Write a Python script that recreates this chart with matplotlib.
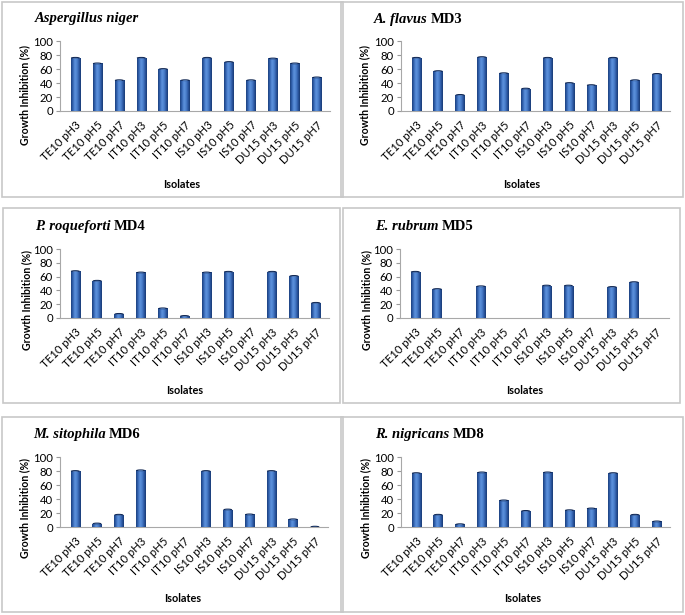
import numpy as np
import matplotlib
matplotlib.use("Agg")
import matplotlib.pyplot as plt
from matplotlib.patches import Rectangle, Ellipse
from matplotlib.colors import LinearSegmentedColormap
from matplotlib.transforms import ScaledTranslation

# ---------------- data ----------------
categories = ["TE10 pH3", "TE10 pH5", "TE10 pH7", "IT10 pH3", "IT10 pH5", "IT10 pH7",
              "IS10 pH3", "IS10 pH5", "IS10 pH7", "DU15 pH3", "DU15 pH5", "DU15 pH7"]

species_italic = ["Aspergillus niger", "A. flavus", "P. roqueforti",
                  "E. rubrum", "M. sitophila", "R. nigricans"]
species_code = ["", "MD3", "MD4", "MD5", "MD6", "MD8"]

a_niger = [76, 68, 44, 76, 60, 44, 76, 70, 44, 75, 68, 48]
a_flavus = [76, 57, 23, 77, 54, 32, 76, 40, 37, 76, 44, 53]
p_roqueforti = [68, 54, 6, 66, 14, 3, 66, 67, 0, 67, 61, 22]
e_rubrum = [67, 42, 0, 46, 0, 0, 47, 47, 0, 45, 52, 0]
m_sitophila = [80, 5, 17.5, 81, 0, 0, 80, 25, 18, 80, 11, 0.5]
r_nigricans = [77, 17.5, 4, 78, 38, 23, 78, 24, 26.5, 77, 17.5, 8]

series = [a_niger, a_flavus, p_roqueforti, e_rubrum, m_sitophila, r_nigricans]
yticks = [0, 20, 40, 60, 80, 100]

# ---------------- layout (pixels) ----------------
W, H = 685, 615
fig = plt.figure(figsize=(W / 100, H / 100), dpi=100)
fig.patch.set_facecolor("white")
renderer = fig.canvas.get_renderer()

boxes = [(2, 2, 343, 197), (341, 2, 683, 197),
         (3, 208, 340, 403), (343, 208, 680, 403),
         (2, 417, 343, 612), (341, 417, 683, 612)]
axes_px = [(60, 41, 330, 111), (401, 41, 670, 111),
           (60, 249, 329, 318), (400, 249, 669, 318),
           (60, 457, 328, 527), (401, 457, 670, 527)]
title_px = [(35, 22), (374, 23), (35, 230), (375, 230), (33, 438), (375, 438)]
ylab_px = [(25, 95), (365, 95), (27, 300), (367, 300), (25, 508), (366, 508)]
xlab_px = [(182, 185), (522, 185), (185, 390), (525, 390), (183, 598), (523, 598)]


def fx(x):
    return x / W


def fy(y):
    return 1 - y / H


cmap = LinearSegmentedColormap.from_list(
    "cyl", ["#1b3f7d", "#3566b4", "#5d92dc", "#4d82cf", "#2e5ba6", "#183a74"])
grad = np.linspace(0, 1, 64).reshape(1, -1)
shift = ScaledTranslation(4 / 100, 0, fig.dpi_scale_trans)

for i in range(6):
    bx0, by0, bx1, by1 = boxes[i]
    fig.patches.append(Rectangle((fx(bx0), fy(by1)), fx(bx1 - bx0), (by1 - by0) / H,
                                 transform=fig.transFigure, fill=False,
                                 edgecolor="#c8c8c8", linewidth=1.2))
    x0, y0, x1, y1 = axes_px[i]
    ax = fig.add_axes([fx(x0), fy(y1), fx(x1 - x0), (y1 - y0) / H])
    ax.set_facecolor("none")
    vals = series[i]
    xpos = np.arange(len(categories))
    bars = ax.bar(xpos, vals, width=0.43, color="#3566b4", zorder=2)
    for b, v in zip(bars, vals):
        if v <= 0:
            continue
        bxl, bw, bh = b.get_x(), b.get_width(), b.get_height()
        im = ax.imshow(grad, extent=[bxl, bxl + bw, 0, bh], aspect="auto",
                       cmap=cmap, zorder=3, interpolation="bilinear")
        im.set_clip_path(b)
        ax.add_patch(Ellipse((bxl + bw / 2, bh), bw * 0.95, 2.6,
                             facecolor="#0f2550", edgecolor="none", zorder=4))
        ax.add_patch(Ellipse((bxl + bw / 2, bh - 0.6), bw * 0.6, 1.0,
                             facecolor="#6f9ee0", edgecolor="none", zorder=5))
    ax.set_xlim(-0.7, 11.6)
    ax.set_ylim(0, 100)
    ax.set_yticks(yticks)
    ax.set_xticks(xpos)
    ax.set_xticklabels(categories, rotation=45, ha="right", rotation_mode="anchor",
                       fontsize=8.2, family="Lato")
    for lab in ax.get_xticklabels():
        lab.set_transform(lab.get_transform() + shift)
    for lab in ax.get_yticklabels():
        lab.set_fontsize(8.2)
        lab.set_family("Lato")
    ax.tick_params(axis="x", length=0, pad=6)
    ax.tick_params(axis="y", length=3, width=0.8, color="#9a9a9a", pad=2)
    for s in ["top", "right"]:
        ax.spines[s].set_visible(False)
    for s in ["left", "bottom"]:
        ax.spines[s].set_color("#a8a8a8")
        ax.spines[s].set_linewidth(0.8)

    tx, ty = title_px[i]
    t1 = fig.text(fx(tx), fy(ty), species_italic[i], family="Liberation Serif",
                  style="italic", weight="bold", fontsize=10.5, ha="left",
                  va="baseline")
    if species_code[i]:
        bb = t1.get_window_extent(renderer)
        fig.text((bb.x1 + 3) / W, fy(ty), species_code[i], family="Liberation Serif",
                 weight="bold", fontsize=10.5, ha="left", va="baseline")
    lx, ly = ylab_px[i]
    fig.text(fx(lx), fy(ly), "Growth Inhibition (%)", rotation=90, ha="center",
             va="center", family="Lato", weight="bold", fontsize=7.6)
    xx, xy = xlab_px[i]
    fig.text(fx(xx), fy(xy), "Isolates", ha="center", va="center",
             family="Lato", weight="bold", fontsize=7.8)

fig.savefig("out.png", dpi=100, facecolor="white")
